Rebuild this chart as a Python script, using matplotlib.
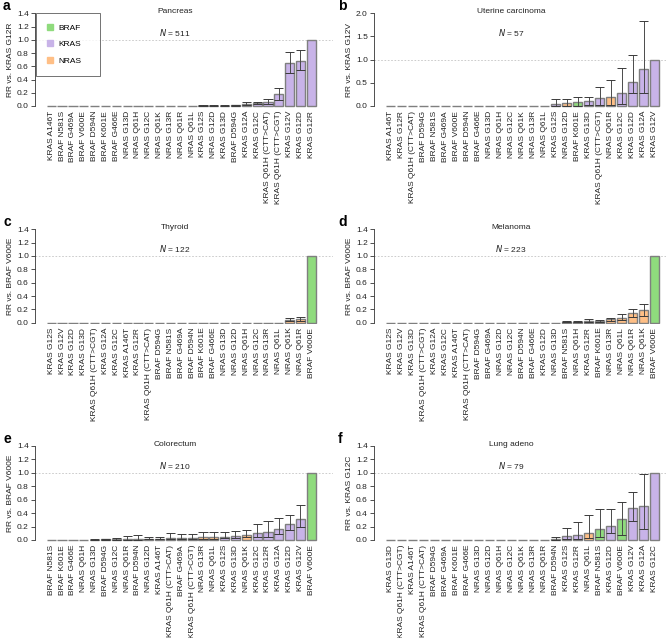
import matplotlib
matplotlib.use("Agg")
import matplotlib.pyplot as plt
from matplotlib.lines import Line2D

plt.rcParams['font.family'] = ['Liberation Sans', 'DejaVu Sans']

# ---------------- data ----------------
labels_a = ["KRAS A146T", "BRAF N581S", "BRAF G469A", "BRAF V600E", "BRAF D594N", "BRAF K601E",
            "BRAF G466E", "NRAS G13D", "NRAS Q61H", "NRAS G12C", "NRAS Q61K", "NRAS G13R",
            "NRAS Q61R", "NRAS Q61L", "KRAS G12S", "NRAS G12D", "KRAS G13D", "BRAF D594G",
            "KRAS G12A", "KRAS G12C", "KRAS Q61H (CTT>CAT)", "KRAS Q61H (CTT>CGT)",
            "KRAS G12V", "KRAS G12D", "KRAS G12R"]
vals_a = [0]*14 + [0.005, 0.005, 0.007, 0.012, 0.035, 0.04, 0.065, 0.18, 0.655, 0.675, 1.0]
low_a = [0]*14 + [0.001, 0.001, 0.002, 0.004, 0.02, 0.025, 0.035, 0.09, 0.5, 0.54, 1.0]
up_a = [0]*14 + [0.01, 0.012, 0.014, 0.018, 0.06, 0.065, 0.11, 0.265, 0.815, 0.84, 1.0]

labels_b = ["KRAS A146T", "KRAS G12R", "KRAS Q61H (CTT>CAT)", "BRAF D594G", "BRAF N581S",
            "BRAF G469A", "BRAF V600E", "BRAF D594N", "BRAF G466E", "NRAS G13D", "NRAS Q61H",
            "NRAS G12C", "NRAS Q61K", "NRAS G13R", "NRAS Q61L", "KRAS G12S", "NRAS G12D",
            "BRAF K601E", "KRAS G13D", "KRAS Q61H (CTT>CGT)", "NRAS Q61R", "KRAS G12C",
            "KRAS G12D", "KRAS G12A", "KRAS G12V"]
vals_b = [0]*15 + [0.05, 0.07, 0.08, 0.1, 0.165, 0.19, 0.27, 0.51, 0.8, 1.0]
low_b = [0]*15 + [0.01, 0.01, 0.01, 0.02, 0.03, 0.03, 0.05, 0.27, 0.27, 1.0]
up_b = [0]*15 + [0.145, 0.15, 0.2, 0.19, 0.4, 0.56, 0.81, 1.09, 1.84, 1.0]

labels_c = ["KRAS G12S", "KRAS G12V", "KRAS G12D", "KRAS G13D", "KRAS Q61H (CTT>CGT)",
            "KRAS G12A", "KRAS G12C", "KRAS A146T", "KRAS G12R", "KRAS Q61H (CTT>CAT)",
            "BRAF D594G", "BRAF N581S", "BRAF G469A", "BRAF D594N", "BRAF K601E", "BRAF G466E",
            "NRAS G13D", "NRAS G12D", "NRAS Q61H", "NRAS G12C", "NRAS G13R", "NRAS Q61L",
            "NRAS Q61K", "NRAS Q61R", "BRAF V600E"]
vals_c = [0]*22 + [0.045, 0.06, 1.0]
low_c = [0]*22 + [0.02, 0.03, 1.0]
up_c = [0]*22 + [0.065, 0.09, 1.0]

labels_d = ["KRAS G12S", "KRAS G12V", "KRAS G13D", "KRAS Q61H (CTT>CGT)", "KRAS G12A",
            "KRAS G12C", "KRAS A146T", "KRAS Q61H (CTT>CAT)", "BRAF D594G", "BRAF G469A",
            "NRAS G12D", "NRAS G12C", "BRAF D594N", "BRAF G466E", "KRAS G12D", "NRAS G13D",
            "BRAF N581S", "NRAS Q61H", "KRAS G12R", "BRAF K601E", "NRAS G13R", "NRAS Q61L",
            "NRAS Q61R", "NRAS Q61K", "BRAF V600E"]
vals_d = [0]*16 + [0.012, 0.015, 0.022, 0.025, 0.05, 0.075, 0.15, 0.19, 1.0]
low_d = [0]*16 + [0.005, 0.006, 0.01, 0.012, 0.03, 0.04, 0.09, 0.1, 1.0]
up_d = [0]*16 + [0.02, 0.025, 0.05, 0.04, 0.065, 0.125, 0.2, 0.275, 1.0]

labels_e = ["BRAF N581S", "BRAF K601E", "BRAF G466E", "NRAS Q61H", "NRAS G13D", "BRAF D594G",
            "NRAS G12C", "NRAS Q61R", "BRAF D594N", "NRAS G12D", "KRAS A146T",
            "KRAS Q61H (CTT>CAT)", "BRAF G469A", "KRAS Q61H (CTT>CGT)", "NRAS G13R",
            "NRAS Q61L", "KRAS G12S", "KRAS G13D", "NRAS Q61K", "KRAS G12C", "KRAS G12R",
            "KRAS G12A", "KRAS G12D", "KRAS G12V", "BRAF V600E"]
vals_e = [0, 0, 0, 0, 0.004, 0.01, 0.012, 0.018, 0.02, 0.02, 0.022, 0.035, 0.035, 0.035,
          0.045, 0.045, 0.05, 0.065, 0.075, 0.1, 0.115, 0.165, 0.235, 0.315, 1.0]
low_e = [0, 0, 0, 0, 0.001, 0.004, 0.005, 0.004, 0.005, 0.01, 0.012, 0.012, 0.01, 0.012,
         0.02, 0.02, 0.025, 0.035, 0.04, 0.05, 0.05, 0.09, 0.15, 0.2, 1.0]
up_e = [0, 0, 0, 0, 0.008, 0.02, 0.025, 0.06, 0.07, 0.04, 0.04, 0.1, 0.09, 0.09,
        0.115, 0.115, 0.115, 0.13, 0.15, 0.24, 0.285, 0.335, 0.365, 0.515, 1.0]

labels_f = ["KRAS G13D", "KRAS Q61H (CTT>CGT)", "KRAS A146T", "KRAS Q61H (CTT>CAT)",
            "BRAF D594G", "BRAF G469A", "BRAF K601E", "BRAF G466E", "NRAS G13D", "NRAS G12D",
            "NRAS Q61H", "NRAS G12C", "NRAS Q61K", "NRAS G13R", "NRAS Q61R", "BRAF D594N",
            "KRAS G12S", "KRAS G12R", "NRAS Q61L", "BRAF N581S", "KRAS G12D", "BRAF V600E",
            "KRAS G12V", "KRAS G12A", "KRAS G12C"]
vals_f = [0]*15 + [0.012, 0.065, 0.075, 0.11, 0.165, 0.21, 0.315, 0.48, 0.505, 1.0]
low_f = [0]*15 + [0.003, 0.02, 0.02, 0.03, 0.05, 0.1, 0.075, 0.29, 0.16, 1.0]
up_f = [0]*15 + [0.05, 0.18, 0.265, 0.365, 0.465, 0.455, 0.565, 0.715, 0.98, 1.0]

ticks_14 = [0, 0.2, 0.4, 0.6, 0.8, 1.0, 1.2, 1.4]
ticks_20 = [0, 0.5, 1.0, 1.5, 2.0]

panels = [
    ("a", "Pancreas", 511, "RR vs. KRAS G12R", labels_a, vals_a, low_a, up_a, 1.4, ticks_14),
    ("b", "Uterine carcinoma", 57, "RR vs. KRAS G12V", labels_b, vals_b, low_b, up_b, 2.0, ticks_20),
    ("c", "Thyroid", 122, "RR vs. BRAF V600E", labels_c, vals_c, low_c, up_c, 1.4, ticks_14),
    ("d", "Melanoma", 223, "RR vs. BRAF V600E", labels_d, vals_d, low_d, up_d, 1.4, ticks_14),
    ("e", "Colorectum", 210, "RR vs. BRAF V600E", labels_e, vals_e, low_e, up_e, 1.4, ticks_14),
    ("f", "Lung adeno", 79, "RR vs. KRAS G12C", labels_f, vals_f, low_f, up_f, 1.4, ticks_14),
]

gene_colors = {"BRAF": "#8FDB7D", "KRAS": "#C8B3E8", "NRAS": "#FFBF86"}

# ---------------- layout ----------------
W, H = 668, 638
fig = plt.figure(figsize=(W / 100, H / 100), dpi=100)

row_top = [13.3, 229.3, 446.0]     # pixel y of ymax
row_bot = [106.0, 322.7, 540.0]    # pixel y of 0
col_left = [35.0, 374.0]
col_w = [298.0, 291.5]
col_xlim = [(-1.5, 26.0), (-1.5, 25.0)]
pad_px = 1.5
TXT = "#222222"

for i, (letter, title, n, ylab, labs, vals, lows, ups, ymax, yticks) in enumerate(panels):
    r, c = divmod(i, 2)
    top = row_top[r] - pad_px
    bot = row_bot[r] + pad_px
    ax = fig.add_axes([col_left[c] / W, 1 - bot / H, col_w[c] / W, (bot - top) / H])
    ppu = (row_bot[r] - row_top[r]) / ymax
    pad = pad_px / ppu
    ax.set_ylim(-pad, ymax + pad)
    ax.set_xlim(*col_xlim[c])
    x = list(range(len(labs)))
    cols = [gene_colors[l.split()[0]] for l in labs]
    ax.bar(x, vals, width=0.85, color=cols, edgecolor="#7f7f7f", linewidth=1.0, zorder=2)
    # error bars
    for xi, v, lo, up in zip(x, vals, lows, ups):
        if up <= 0 or (v == 1.0 and up == 1.0):
            continue
        ax.vlines(xi, lo, up, color="#4a4a4a", linewidth=0.7, zorder=3)
        ax.hlines([lo, up], xi - 0.42, xi + 0.42, color="#3a3a3a", linewidth=0.7, zorder=3)
    ax.axhline(1.0, color="#c4c4c4", linewidth=0.6, linestyle=(0, (2, 2)), zorder=1)

    for s in ["top", "right", "bottom"]:
        ax.spines[s].set_visible(False)
    ax.spines["left"].set_bounds(0, ymax)
    ax.spines["left"].set_linewidth(0.6)
    ax.spines["left"].set_color("#333333")
    ax.set_yticks(yticks)
    ax.set_yticklabels(["%.1f" % t for t in yticks])
    ax.tick_params(axis="y", direction="out", length=3, width=0.6, labelsize=6, pad=1.5,
                   colors="#333333", labelcolor=TXT)
    ax.set_xticks(x)
    ax.set_xticklabels(labs, rotation=90, fontsize=6, color=TXT)
    ax.tick_params(axis="x", length=0, pad=2.5)
    ax.set_ylabel(ylab, fontsize=6, color=TXT, labelpad=2)

    xc = col_xlim[c][0] + 0.47 * (col_xlim[c][1] - col_xlim[c][0])
    ax.text(xc, ymax * (1.42 / 1.4), title, fontsize=6, ha="center", va="center",
            color=TXT, clip_on=False)
    ax.text(xc, ymax * (1.105 / 1.4), r"$\it{N}$ = " + str(n), fontsize=6, ha="center",
            va="center", color=TXT)

    fig.text((3 if c == 0 else 338) / W, 1 - (row_top[r] - 7) / H, letter, fontsize=10,
             fontweight="bold", ha="left", va="center")

    if letter == "a":
        handles = [Line2D([], [], marker="s", linestyle="none", markersize=5,
                          markerfacecolor=gene_colors[g], markeredgecolor=gene_colors[g], label=g)
                   for g in ["BRAF", "KRAS", "NRAS"]]
        ytop = 1.0 - (1.2 / (bot - top))
        leg = ax.legend(handles=handles, loc="upper left",
                        bbox_to_anchor=(0.003, ytop - 0.7, 0.215, 0.7), mode="expand",
                        frameon=True, fancybox=False, fontsize=6, handlelength=0.9,
                        handletextpad=0.5, labelspacing=1.05, borderpad=1.3, borderaxespad=0)
        leg.get_frame().set_edgecolor("#333333")
        leg.get_frame().set_linewidth(0.6)

fig.savefig("out.png", dpi=100)
